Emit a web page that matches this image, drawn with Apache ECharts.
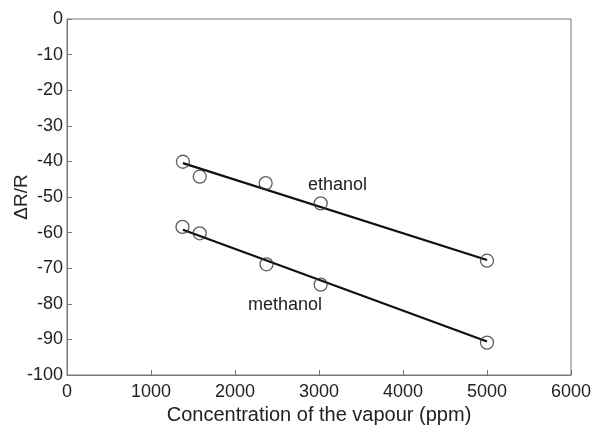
<!DOCTYPE html>
<html>
<head>
<meta charset="utf-8">
<script src="https://cdn.jsdelivr.net/npm/echarts@6/dist/echarts.min.js"></script>
<style>
  html, body { margin: 0; padding: 0; background: #fff; }
  #chart { width: 592px; height: 425px; }
</style>
</head>
<body>
<div id="chart"></div>
<script>
// Measured response of the sensor, ΔR/R (%) vs vapour concentration (ppm)
const ethanolX = [1380, 1580, 2365, 3020, 5000];
const ethanolY = [-40.1, -44.3, -46.1, -51.8, -67.9];
const methanolX = [1375, 1580, 2375, 3020, 5000];
const methanolY = [-58.4, -60.2, -68.9, -74.6, -90.9];

// Least-squares fit lines (end points)
const ethanolFitX = [1380, 5000];
const ethanolFitY = [-40.5, -67.7];
const methanolFitX = [1380, 5000];
const methanolFitY = [-59.2, -90.6];

const xTicks = [0, 1000, 2000, 3000, 4000, 5000, 6000];
const yTicks = [0, -10, -20, -30, -40, -50, -60, -70, -80, -90, -100];

const pairs = (xs, ys) => xs.map((x, i) => [x, ys[i]]);

const font = '"Liberation Sans", Arial, Helvetica, sans-serif';
const axisGray = '#777';
const textColor = '#222';

const chart = echarts.init(document.getElementById('chart'), null, { renderer: 'canvas' });

const fitStyle = { color: '#111', width: 2.3 };
const markerStyle = { color: 'rgba(0,0,0,0)', borderColor: '#333', borderWidth: 1.3 };

chart.setOption({
  animation: false,
  backgroundColor: '#fff',
  grid: {
    left: 67, right: 21, top: 19, bottom: 50,
    outerBoundsMode: 'none',
    containLabel: false,
    show: true, borderColor: axisGray, borderWidth: 1, backgroundColor: 'transparent'
  },
  xAxis: {
    type: 'value',
    min: xTicks[0], max: xTicks[xTicks.length - 1], interval: 1000,
    name: 'Concentration of the vapour (ppm)',
    nameLocation: 'middle', nameGap: 30, nameMoveOverlap: false,
    nameTextStyle: { fontFamily: font, fontSize: 20, color: textColor },
    axisLine: { show: true, onZero: false, lineStyle: { color: axisGray, width: 1 } },
    axisTick: { show: true, inside: true, length: 5, lineStyle: { color: axisGray } },
    axisLabel: {
      fontFamily: font, fontSize: 18, color: textColor, margin: 8,
      formatter: v => String(v)
    },
    splitLine: { show: false }
  },
  yAxis: {
    type: 'value',
    min: yTicks[yTicks.length - 1], max: yTicks[0], interval: 10,
    name: 'ΔR/R',
    nameLocation: 'middle', nameGap: 36, nameRotate: 90, nameMoveOverlap: false,
    nameTextStyle: { fontFamily: font, fontSize: 19, color: textColor },
    axisLine: { show: true, onZero: false, lineStyle: { color: axisGray, width: 1 } },
    axisTick: { show: true, inside: true, length: 5, lineStyle: { color: axisGray } },
    axisLabel: {
      fontFamily: font, fontSize: 18, color: textColor, margin: 4,
      formatter: v => String(v)
    },
    splitLine: { show: false }
  },
  series: [
    {
      name: 'ethanol fit', type: 'line', data: pairs(ethanolFitX, ethanolFitY),
      showSymbol: false, symbol: 'none', lineStyle: fitStyle, z: 2
    },
    {
      name: 'methanol fit', type: 'line', data: pairs(methanolFitX, methanolFitY),
      showSymbol: false, symbol: 'none', lineStyle: fitStyle, z: 2
    },
    {
      name: 'ethanol', type: 'scatter', data: pairs(ethanolX, ethanolY),
      symbol: 'circle', symbolSize: 13, itemStyle: markerStyle, z: 3
    },
    {
      name: 'methanol', type: 'scatter', data: pairs(methanolX, methanolY),
      symbol: 'circle', symbolSize: 13, itemStyle: markerStyle, z: 3
    }
  ],
  graphic: [
    {
      type: 'text', left: 308, top: 176,
      style: { text: 'ethanol', fontFamily: font, fontSize: 18, fill: textColor }
    },
    {
      type: 'text', left: 248, top: 296,
      style: { text: 'methanol', fontFamily: font, fontSize: 18, fill: textColor }
    }
  ]
});
</script>
</body>
</html>
